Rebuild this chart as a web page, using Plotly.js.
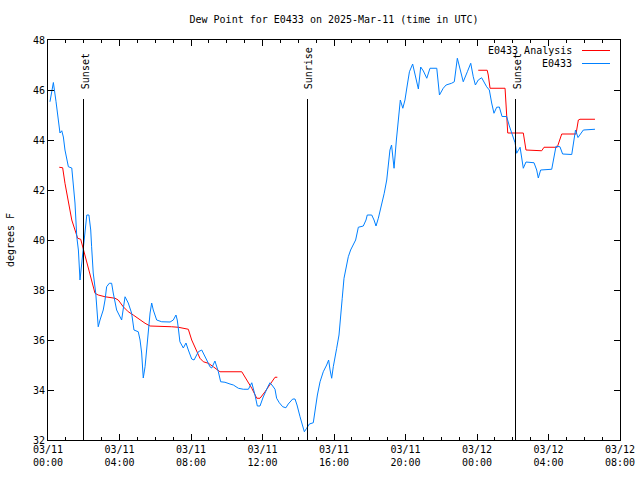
<!DOCTYPE html>
<html>
<head>
<meta charset="utf-8">
<script src="https://cdn.plot.ly/plotly-3.0.1.min.js"></script>
<style>html,body{margin:0;padding:0;background:#fff}#chart{width:640px;height:480px}
.shapelayer path{shape-rendering:crispEdges}</style>
</head>
<body>
<div id="chart"></div>
<script>
// Observed dew point (hours after 2025-03-11 00:00 UTC, degrees F)
var obsHours = [0.11,0.30,0.45,0.58,0.67,0.77,0.86,0.95,1.05,1.14,1.33,1.42,1.51,1.61,1.70,1.79,1.89,1.97,2.07,2.17,2.29,2.39,2.44,2.53,2.67,2.81,2.91,3.09,3.19,3.28,3.43,3.56,3.65,3.84,4.12,4.21,4.31,4.49,4.68,4.81,5.05,5.15,5.24,5.30,5.33,5.43,5.52,5.61,5.71,5.80,5.89,6.08,6.36,6.83,7.01,7.16,7.23,7.29,7.38,7.57,7.72,7.85,8.04,8.17,8.41,8.60,8.69,8.88,9.06,9.16,9.34,9.53,9.66,9.90,10.18,10.37,10.65,10.93,11.21,11.40,11.58,11.71,11.86,12.04,12.32,12.42,12.57,12.70,12.79,12.94,13.13,13.31,13.44,13.69,13.82,13.93,14.10,14.25,14.34,14.47,14.62,14.84,14.94,15.07,15.22,15.40,15.59,15.70,15.78,15.87,15.96,16.06,16.15,16.28,16.37,16.46,16.56,16.67,16.80,16.93,17.08,17.21,17.33,17.36,17.64,17.79,17.86,18.11,18.24,18.35,18.48,18.67,18.81,18.95,19.04,19.13,19.22,19.29,19.36,19.49,19.60,19.71,19.85,19.97,20.10,20.22,20.40,20.53,20.72,20.85,21.00,21.19,21.37,21.75,21.84,21.90,22.11,22.27,22.58,22.73,22.90,23.01,23.23,23.46,23.65,23.79,23.91,24.07,24.26,24.54,24.69,24.82,24.95,25.10,25.25,25.40,25.66,25.81,25.94,26.13,26.22,26.31,26.41,26.59,26.74,27.19,27.34,27.43,27.56,28.18,28.31,28.42,28.64,28.79,29.30,29.39,29.51,29.65,29.95,30.60];
var obsValues = [45.53,46.30,45.53,44.73,44.28,44.37,44.12,43.60,43.28,42.93,42.88,42.28,41.48,40.13,39.60,38.40,39.08,39.73,40.40,41.00,41.00,40.40,39.73,38.68,37.88,36.53,36.80,37.20,37.60,38.13,38.27,38.27,37.88,37.20,36.80,37.33,37.73,37.48,37.07,36.40,36.33,36.00,35.48,34.80,34.48,34.93,35.73,36.53,37.08,37.48,37.20,36.80,36.73,36.72,36.80,37.00,36.80,36.48,35.93,35.68,35.88,35.60,35.24,35.20,35.53,35.60,35.49,35.20,34.93,34.88,35.16,34.73,34.33,34.31,34.24,34.20,34.07,34.03,34.03,34.29,33.80,33.36,33.36,33.72,34.16,34.29,34.16,34.03,33.67,33.49,33.33,33.29,33.44,33.64,33.64,33.40,32.93,32.53,32.33,32.47,32.64,32.69,33.20,33.80,34.33,34.73,35.00,35.20,34.80,34.47,34.93,35.27,35.67,36.20,36.80,37.67,38.47,38.93,39.33,39.60,39.80,40.00,40.40,40.51,40.56,40.80,41.00,41.00,40.80,40.56,40.87,41.40,41.87,42.40,42.93,43.60,43.80,43.32,42.87,44.00,44.80,45.60,45.27,45.60,46.20,46.73,47.04,46.68,46.04,46.92,46.76,46.47,46.87,46.87,46.33,45.80,46.07,46.20,46.27,46.33,47.27,46.93,46.33,46.73,47.07,46.53,46.20,46.40,46.49,46.13,46.00,45.48,45.07,45.31,45.32,44.94,44.94,44.56,44.28,43.89,43.47,43.60,43.71,42.87,43.12,43.09,42.80,42.48,42.80,42.83,43.27,43.75,43.73,43.44,43.42,43.93,44.40,44.10,44.40,44.43];

// Analysis dew point (null = gap in the analysis)
var anaHours = [0.63,0.82,0.95,1.14,1.33,1.51,1.66,1.83,1.94,2.07,2.25,2.44,2.63,2.81,3.19,3.75,3.93,4.21,4.49,4.77,5.15,5.43,5.71,6.27,6.92,7.29,7.57,7.85,8.04,8.32,8.50,8.69,8.97,9.25,9.53,9.62,10.84,11.12,11.40,11.68,11.86,12.14,12.42,12.70,12.83,18.0,24.07,24.57,24.63,24.73,25.57,25.66,25.72,26.59,26.74,27.62,27.75,28.49,28.64,28.74,29.54,29.67,29.76,30.60];
var anaValues = [42.91,42.89,42.27,41.47,40.80,40.40,40.07,40.03,39.73,39.33,38.80,38.40,37.87,37.80,37.73,37.67,37.60,37.33,37.13,37.00,36.80,36.67,36.56,36.56,36.53,36.51,36.47,36.43,36.00,35.53,35.27,35.13,35.07,34.93,34.80,34.73,34.73,34.40,34.07,33.67,33.67,33.93,34.20,34.51,34.51,null,46.79,46.79,46.60,46.07,46.07,45.20,44.28,44.28,43.60,43.57,43.71,43.71,44.00,44.24,44.24,44.80,44.83,44.83];

// Sun events
var eventHours = [2.01, 14.49, 26.18];
var eventLabels = ["Sunset", "Sunrise", "Sunset"];

// X tick labels
var tickHours = [0, 4, 8, 12, 16, 20, 24, 28, 32];
var tickLabels = ["03/11<br>00:00","03/11<br>04:00","03/11<br>08:00","03/11<br>12:00","03/11<br>16:00","03/11<br>20:00","03/12<br>00:00","03/12<br>04:00","03/12<br>08:00"];

// Series names and colours
var seriesNames = ["E0433 Analysis", "E0433"];
var seriesColors = ["#ff0000", "#0080ff"];

var startMs = Date.UTC(2025, 2, 11, 0, 0, 0);
function toTime(h) {
  var d = new Date(startMs + Math.round(h * 3600000));
  return d.toISOString().replace('T', ' ').slice(0, 19);
}

var FONT = "DejaVu Sans Mono, monospace";

var traces = [
  {
    x: anaHours.map(toTime), y: anaValues,
    type: 'scatter', mode: 'lines', name: seriesNames[0],
    line: {color: seriesColors[0], width: 1}, connectgaps: false, showlegend: false
  },
  {
    x: obsHours.map(toTime), y: obsValues,
    type: 'scatter', mode: 'lines', name: seriesNames[1],
    line: {color: seriesColors[1], width: 1}, showlegend: false
  }
];

var shapes = eventHours.map(function (h) {
  return {type: 'line', xref: 'x', yref: 'y', x0: toTime(h), x1: toTime(h), y0: 32, y1: 45.65,
          line: {color: '#000', width: 1}};
});
var annotations = eventHours.map(function (h, i) {
  return {xref: 'x', yref: 'y', x: toTime(h), y: 45.95, text: eventLabels[i], textangle: -90,
          showarrow: false, xanchor: 'center', yanchor: 'bottom', xshift: 1,
          font: {family: FONT, size: 10, color: '#000'}};
});

// gnuplot-style key: text right-aligned, then sample line
seriesNames.forEach(function (name, i) {
  var yp = 0.975 - i * 0.0325;
  annotations.push({xref: 'paper', yref: 'paper', x: 0.92, y: yp, text: name, showarrow: false,
                    xanchor: 'right', yanchor: 'middle', font: {family: FONT, size: 10, color: '#000'}});
  shapes.push({type: 'line', xref: 'paper', yref: 'paper', x0: 0.934, x1: 0.983, y0: yp, y1: yp,
               line: {color: seriesColors[i], width: 1}});
});

var layout = {
  width: 640, height: 480,
  margin: {l: 48, r: 20, t: 40, b: 40},
  paper_bgcolor: '#fff', plot_bgcolor: '#fff',
  font: {family: FONT, size: 10, color: '#000'},
  title: {text: 'Dew Point for E0433 on 2025-Mar-11 (time in UTC)', x: 0.5, xref: 'paper',
          y: 0.96, yref: 'container', yanchor: 'middle', font: {family: FONT, size: 10, color: '#000'}},
  xaxis: {
    type: 'date',
    range: [toTime(0), toTime(32)],
    tickmode: 'array', tickvals: tickHours.map(toTime), ticktext: tickLabels,
    ticks: 'inside', ticklen: 6, tickcolor: '#000', tickwidth: 1,
    minor: {tickmode: 'linear', tick0: toTime(0), dtick: 3600000, ticks: 'inside', ticklen: 3, tickcolor: '#000', showgrid: false},
    showline: true, linecolor: '#000', linewidth: 1, mirror: 'ticks',
    showgrid: false, zeroline: false,
    tickfont: {family: FONT, size: 10, color: '#000'}
  },
  yaxis: {
    range: [32, 48], tickmode: 'linear', tick0: 32, dtick: 2,
    ticks: 'inside', ticklen: 6, tickcolor: '#000', tickwidth: 1,
    showline: true, linecolor: '#000', linewidth: 1, mirror: 'ticks',
    showgrid: false, zeroline: false,
    title: {text: 'degrees F', font: {family: FONT, size: 10, color: '#000'}, standoff: 16},
    tickfont: {family: FONT, size: 10, color: '#000'}
  },
  showlegend: false,
  shapes: shapes,
  annotations: annotations
};

Plotly.newPlot('chart', traces, layout, {displayModeBar: false, staticPlot: true});
</script>
</body>
</html>
